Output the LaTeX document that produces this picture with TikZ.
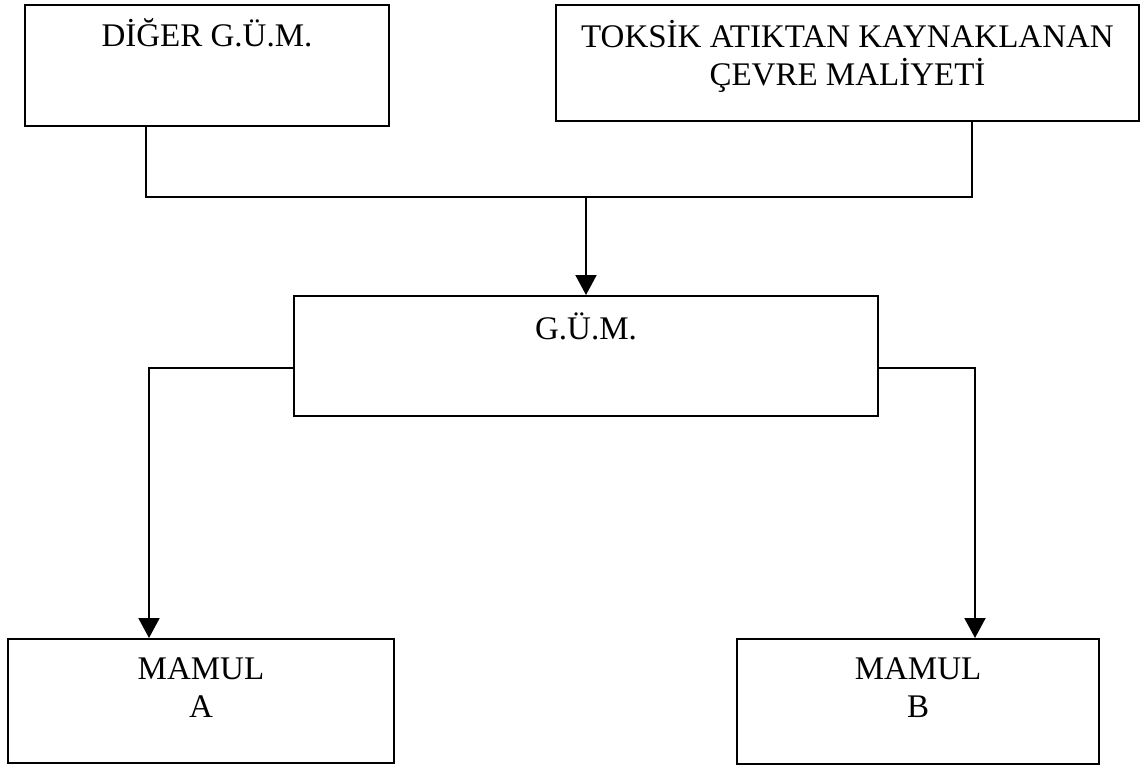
\documentclass[tikz,border=0pt]{standalone}
\usepackage{fontspec}
\setmainfont{Liberation Serif}
\usetikzlibrary{arrows.meta}
\begin{document}
\begin{tikzpicture}[x=1pt,y=-1pt,
  box/.style={draw,line width=2pt,rectangle,inner sep=0pt},
  lbl/.style={anchor=base,inner sep=0pt,font=\fontsize{33}{38}\selectfont},
  link/.style={line width=2pt},
  arrowlink/.style={line width=2pt,-{Triangle[length=20pt,width=21pt]}}]
\useasboundingbox (0,0) rectangle (1144,768);
% boxes, given by their centres and sizes
\node[box,minimum width=364pt,minimum height=121pt] (d1) at (207,65.5) {};
\node[box,minimum width=583pt,minimum height=116pt] (d2) at (847.5,63) {};
\node[box,minimum width=584pt,minimum height=120pt] (g)  at (586,356) {};
\node[box,minimum width=386pt,minimum height=124pt] (a)  at (201,701) {};
\node[box,minimum width=362pt,minimum height=125pt] (b)  at (918,701.5) {};
% texts
\node[lbl] (d1t) at (207,47) {DİĞER G.Ü.M.};
\node[lbl] (d2t1) at (847.5,48) {TOKSİK ATIKTAN KAYNAKLANAN};
\node[lbl] (d2t2) at (847.5,86) {ÇEVRE MALİYETİ};
\node[lbl] (gt) at (586,339) {G.Ü.M.};
\node[lbl] (at1) at (201,679) {MAMUL};
\node[lbl] (at2) at (201,717) {A};
\node[lbl] (bt1) at (918,679) {MAMUL};
\node[lbl] (bt2) at (918,717) {B};
% junction points
\coordinate (j1) at (146,197);
\coordinate (j2) at (972,197);
\coordinate (jm) at (586,197);
\coordinate (cl) at (149,368);
\coordinate (cr) at (975,368);
% connectors
\draw[link] (d1.south -| j1) -- (j1) -- (j2) -- (d2.south -| j2);
\draw[arrowlink] (jm) -- (g.north -| jm);
\draw[arrowlink] (g.west |- cl) -- (cl) -- (a.north -| cl);
\draw[arrowlink] (g.east |- cr) -- (cr) -- (b.north -| cr);
\end{tikzpicture}
\end{document}
